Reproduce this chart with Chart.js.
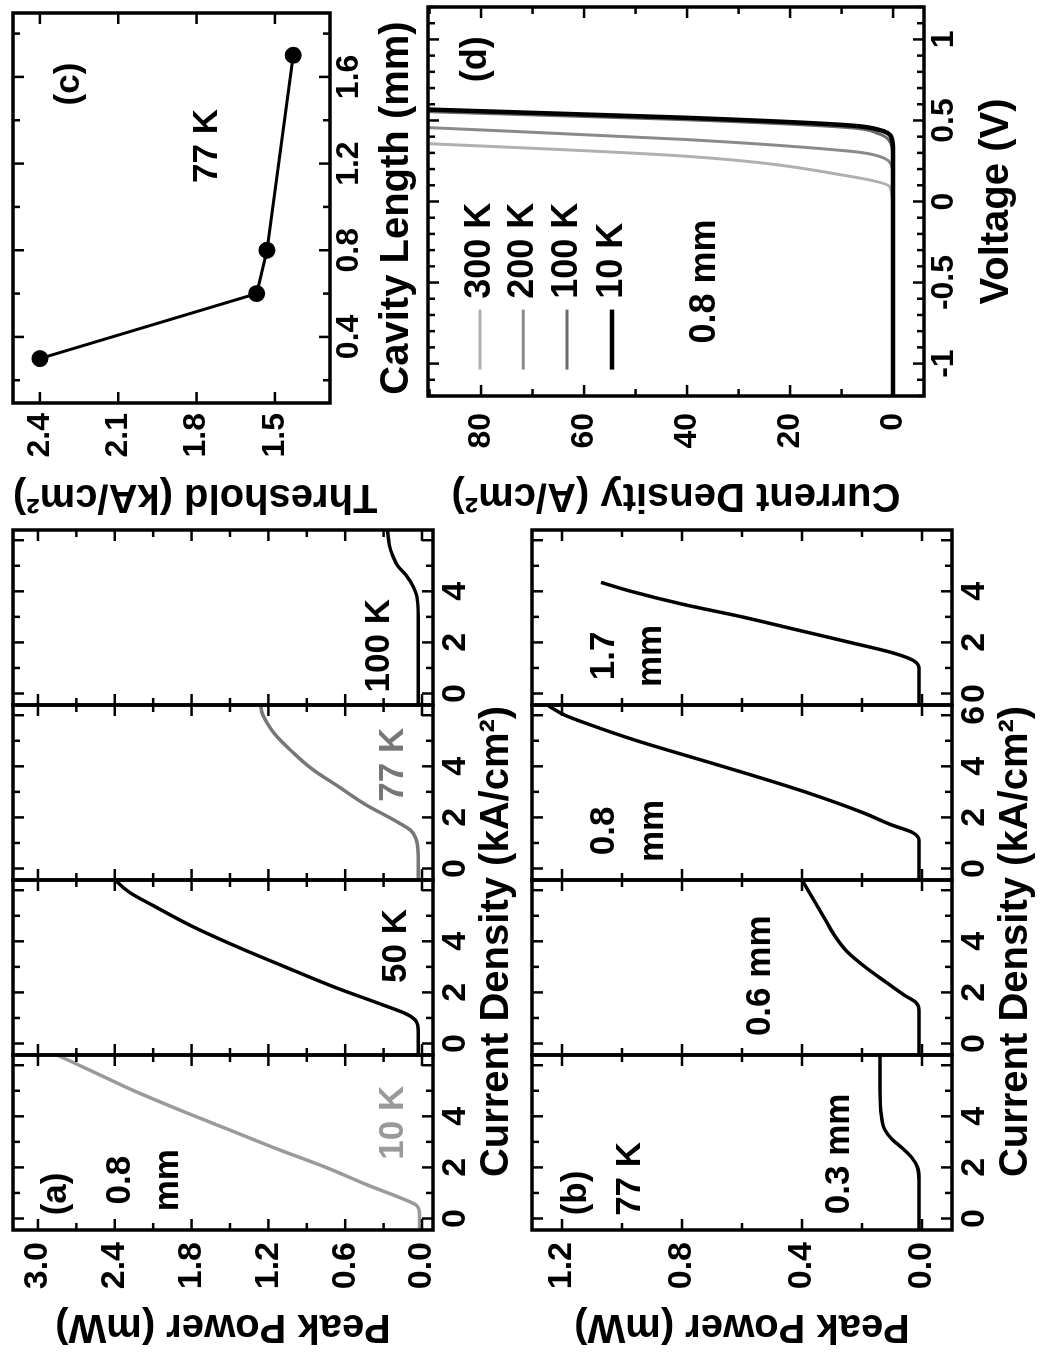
<!DOCTYPE html>
<html><head><meta charset="utf-8">
<script src="https://cdn.jsdelivr.net/npm/chart.js@4.4.1/dist/chart.umd.min.js"></script>
<style>
html,body{margin:0;padding:0;background:#fff;overflow:hidden;width:1040px;height:1353px}
#fig{position:absolute;left:0;top:0;width:1353px;height:1040px;transform-origin:0 0;transform:translateY(1353px) rotate(-90deg);background:#fff}
#fig canvas{position:absolute}
</style></head><body>
<div id="fig">
<canvas id="ca" width="838" height="521" style="left:0;top:0"></canvas>
<canvas id="cb" width="838" height="521" style="left:0;top:519px"></canvas>
<canvas id="cc" width="521" height="421" style="left:832px;top:0"></canvas>
<canvas id="cd" width="521" height="606" style="left:832px;top:415px"></canvas>
</div>
<script>
// ---------- DATA ----------
// Panel (a): 0.8 mm device, Peak power (mW) vs current density (kA/cm^2)
const tempLabelsA = ['10 K', '50 K', '77 K', '100 K'];
const a10J  = [-0.45, 0.2, 0.5, 0.75, 1.3, 2.0, 2.7, 3.4, 4.2, 5.0, 5.7, 6.4];
const a10P  = [0.02, 0.02, 0.04, 0.14, 0.42, 0.75, 1.12, 1.47, 1.87, 2.25, 2.55, 2.85];
const a50J  = [-0.45, 0.5, 0.9, 1.15, 1.5, 2.2, 3.0, 3.8, 4.6, 5.4, 5.9, 6.4];
const a50P  = [0.03, 0.03, 0.05, 0.12, 0.3, 0.68, 1.07, 1.45, 1.8, 2.1, 2.28, 2.4];
const a77J  = [-0.45, 0.5, 1.2, 1.5, 1.9, 2.5, 3.2, 3.9, 4.6, 5.2, 5.7, 6.1, 6.4];
const a77P  = [0.03, 0.03, 0.05, 0.09, 0.22, 0.44, 0.65, 0.86, 1.02, 1.14, 1.21, 1.25, 1.26];
const a100J = [-0.45, 1, 2, 3, 3.8, 4.2, 4.6, 5.0, 5.4, 5.8, 6.4];
const a100P = [0.03, 0.03, 0.03, 0.03, 0.04, 0.07, 0.12, 0.19, 0.23, 0.255, 0.27];

// Panel (b): 77 K, different cavity lengths
const lengthLabelsB = ['0.3 mm', '0.6 mm', '0.8 mm', '1.7 mm'];
const b03J = [-0.45, 1.5, 2.0, 2.4, 2.8, 3.1, 3.5, 4.0, 5.0, 6.4];
const b03P = [0.01, 0.01, 0.015, 0.035, 0.07, 0.1, 0.125, 0.135, 0.14, 0.14];
const b06J = [-0.45, 0.5, 1.3, 1.6, 1.9, 2.4, 3.0, 3.6, 4.2, 4.8, 5.4, 6.0, 6.4];
const b06P = [0.01, 0.01, 0.01, 0.02, 0.06, 0.12, 0.19, 0.25, 0.29, 0.32, 0.35, 0.38, 0.4];
const b08J = [-0.45, 0.5, 1.1, 1.4, 1.7, 2.2, 3.0, 3.7, 4.4, 5.0, 5.6, 6.0, 6.4];
const b08P = [0.01, 0.01, 0.01, 0.03, 0.1, 0.2, 0.39, 0.58, 0.78, 0.95, 1.1, 1.19, 1.25];
const b17J = [-0.45, 0.5, 1.0, 1.3, 1.6, 2.0, 2.5, 3.0, 3.5, 4.0, 4.35];
const b17P = [0.01, 0.01, 0.01, 0.03, 0.1, 0.24, 0.42, 0.6, 0.8, 0.97, 1.07];

// Panel (c): threshold vs cavity length at 77 K
const cavityLen = [0.3, 0.6, 0.8, 1.7];
const threshold = [2.4, 1.57, 1.53, 1.43];

// Panel (d): J-V curves, 0.8 mm
const tempLabelsD = ['10 K', '100 K', '200 K', '300 K'];
const d10V  = [-1.2, 0.3, 0.40, 0.44, 0.469, 0.517, 0.568, 0.58];
const d10J  = [0, 0, 0.4, 2.5, 8.3, 40.6, 91, 100];
const d100V = [-1.2, 0.25, 0.36, 0.42, 0.455, 0.505, 0.555, 0.567];
const d100J = [0, 0, 0.5, 3, 8.3, 40.6, 91, 100];
const d200V = [-1.2, 0.15, 0.24, 0.29, 0.31, 0.383, 0.457, 0.47];
const d200J = [0, 0, 0.6, 4, 8.3, 40.6, 91, 100];
const d300V = [-1.2, -0.05, 0.09, 0.155, 0.28, 0.358, 0.37];
const d300J = [0, 0, 0.6, 8.3, 40.6, 91, 100];

// Tick labels
const jTicks = [0, 2, 4];
const jTicks08 = [0, 2, 4, 6];
const powerTicksA = [0, 0.6, 1.2, 1.8, 2.4, 3.0];
const powerTicksB = [0, 0.4, 0.8, 1.2];
const lenTicks = [0.4, 0.8, 1.2, 1.6];
const thrTicks = [1.5, 1.8, 2.1, 2.4];
const voltTicks = [-1, -0.5, 0, 0.5, 1];
const jdTicks = [0, 20, 40, 60, 80];

// ---------- STYLE / LAYOUT ----------
const FONT = "'Liberation Sans', Arial, sans-serif";
const BLACK = '#000';
const tickFontAB = {family: FONT, size: 34, weight: 'bold'};
const tickFontCD = {family: FONT, size: 32, weight: 'bold'};
const titleFont = {family: FONT, size: 40, weight: 'bold'};
const NOTE_SIZE = 35;
const J_MIN = -0.45, J_MAX = 6.4;

const pts = (xs, ys) => xs.map((x, i) => ({x, y: ys[i]}));
const zeroPad = sc => { sc.paddingLeft = 0; sc.paddingRight = 0; sc.paddingTop = 0; sc.paddingBottom = 0; };
const fixTicks = vals => sc => { sc.ticks = vals.map(v => ({value: v})); };

function frameTicks(o) {
  return {
    id: 'frameTicks',
    afterDatasetsDraw(chart) {
      const {ctx, chartArea: ca} = chart;
      const ys = chart.scales[o.yId];
      const seg = (x1, y1, x2, y2) => { ctx.beginPath(); ctx.moveTo(x1, y1); ctx.lineTo(x2, y2); ctx.stroke(); };
      const steps = (min, max, step) => { const out = []; for (let k = Math.ceil(min / step - 1e-9); k * step <= max + 1e-9; k++) out.push(k * step); return out; };
      const isMaj = (v, m) => Math.abs(v / m - Math.round(v / m)) < 1e-6;
      ctx.save();
      ctx.strokeStyle = BLACK;
      o.xIds.forEach(id => {
        const xs = chart.scales[id];
        const L = xs.left, R = xs.right, T = ca.top, B = ca.bottom;
        ctx.lineWidth = 2.5;
        steps(xs.min, xs.max, o.xMinor).forEach(v => {
          const p = xs.getPixelForValue(v); const len = isMaj(v, o.xMajor) ? 11 : 7;
          seg(p, B, p, B - len); seg(p, T, p, T + len);
        });
        steps(ys.min, ys.max, o.yMinor).forEach(v => {
          const p = ys.getPixelForValue(v); const len = isMaj(v, o.yMajor) ? 11 : 7;
          seg(L, p, L + len, p); seg(R, p, R - len, p);
        });
        ctx.lineWidth = 3.5;
        ctx.strokeRect(L, T, R - L, B - T);
      });
      ctx.restore();
    }
  };
}

function notesPlugin(list, size) {
  return {
    id: 'notes',
    afterDatasetsDraw(chart) {
      const ctx = chart.ctx;
      ctx.save();
      ctx.textAlign = 'center'; ctx.textBaseline = 'middle';
      ctx.font = `bold ${size}px ${FONT}`;
      list.forEach(n => {
        const xs = chart.scales[n.xId || 'x'], ys = chart.scales.y;
        ctx.fillStyle = n.color || BLACK;
        ctx.fillText(n.text, xs.getPixelForValue(n.x), ys.getPixelForValue(n.y));
      });
      ctx.restore();
    }
  };
}

function stackedPanel(canvasId, series, yMin, yMax, yTicks, yMinor, yMajor, notes) {
  const scales = {};
  const datasets = [];
  series.forEach((s, i) => {
    const xid = 'x' + i;
    scales[xid] = {
      type: 'linear', axis: 'x', position: 'bottom', stack: 'J', stackWeight: 1,
      min: J_MIN, max: J_MAX,
      grid: {display: false, drawTicks: false}, border: {display: false},
      afterBuildTicks: fixTicks(s.ticks),
      afterFit: sc => { sc.height = 40; zeroPad(sc); },
      ticks: {font: tickFontAB, color: BLACK, padding: 2, maxRotation: 0, minRotation: 0, autoSkip: false, callback: v => String(v)}
    };
    datasets.push({label: s.label, data: s.data, xAxisID: xid, yAxisID: 'y', showLine: true,
      borderColor: s.color, borderWidth: 3.5, pointRadius: 0, cubicInterpolationMode: 'monotone', fill: false});
  });
  scales.y = {
    type: 'linear', axis: 'y', position: 'left', min: yMin, max: yMax,
    grid: {display: false, drawTicks: false}, border: {display: false},
    afterBuildTicks: fixTicks(yTicks),
    afterFit: sc => { sc.width = 123; zeroPad(sc); },
    ticks: {font: tickFontAB, color: BLACK, padding: 12, callback: v => v.toFixed(1)},
    title: {display: true, text: 'Peak Power (mW)', font: titleFont, color: BLACK, padding: {top: 3, bottom: 0}}
  };
  return new Chart(document.getElementById(canvasId), {
    type: 'scatter',
    data: {datasets},
    options: {
      responsive: false, animation: false, events: [],
      layout: {padding: {top: 13, right: 15, left: 0, bottom: 0}},
      plugins: {
        legend: {display: false}, tooltip: {enabled: false},
        title: {display: true, position: 'bottom', text: 'Current Density (kA/cm²)', font: titleFont, color: BLACK, padding: 0}
      },
      scales
    },
    plugins: [frameTicks({xIds: ['x0', 'x1', 'x2', 'x3'], yId: 'y', xMinor: 1, xMajor: 2, yMinor: yMinor, yMajor: yMajor}), notesPlugin(notes, NOTE_SIZE)]
  });
}

// ---------- PANEL (a) ----------
const GRAY_LIGHT = '#9a9a9a', GRAY_MID = '#777777';
stackedPanel('ca', [
  {label: tempLabelsA[0], data: pts(a10J, a10P), color: GRAY_LIGHT, ticks: jTicks},
  {label: tempLabelsA[1], data: pts(a50J, a50P), color: BLACK, ticks: jTicks},
  {label: tempLabelsA[2], data: pts(a77J, a77P), color: GRAY_MID, ticks: jTicks},
  {label: tempLabelsA[3], data: pts(a100J, a100P), color: BLACK, ticks: jTicks}
], -0.0859, 3.195, powerTicksA, 0.3, 0.6, [
  {text: '(a)', xId: 'x0', x: 0.96, y: 2.86},
  {text: '0.8', xId: 'x0', x: 1.5, y: 2.36},
  {text: 'mm', xId: 'x0', x: 1.5, y: 1.98},
  {text: tempLabelsA[0], xId: 'x0', x: 3.75, y: 0.22, color: GRAY_LIGHT},
  {text: tempLabelsA[1], xId: 'x1', x: 3.82, y: 0.2},
  {text: tempLabelsA[2], xId: 'x2', x: 4.06, y: 0.226, color: GRAY_MID},
  {text: tempLabelsA[3], xId: 'x3', x: 1.87, y: 0.33}
]);

// ---------- PANEL (b) ----------
stackedPanel('cb', [
  {label: lengthLabelsB[0], data: pts(b03J, b03P), color: BLACK, ticks: jTicks},
  {label: lengthLabelsB[1], data: pts(b06J, b06P), color: BLACK, ticks: jTicks},
  {label: lengthLabelsB[2], data: pts(b08J, b08P), color: BLACK, ticks: jTicks08},
  {label: lengthLabelsB[3], data: pts(b17J, b17P), color: BLACK, ticks: jTicks}
], -0.1, 1.3, powerTicksB, 0.2, 0.4, [
  {text: '(b)', xId: 'x0', x: 1.0, y: 1.153},
  {text: '77 K', xId: 'x0', x: 1.55, y: 0.973},
  {text: lengthLabelsB[0], xId: 'x0', x: 2.53, y: 0.277},
  {text: lengthLabelsB[1], xId: 'x1', x: 2.65, y: 0.54},
  {text: '0.8', xId: 'x2', x: 1.47, y: 1.06},
  {text: 'mm', xId: 'x2', x: 1.47, y: 0.897},
  {text: '1.7', xId: 'x3', x: 1.47, y: 1.06},
  {text: 'mm', xId: 'x3', x: 1.47, y: 0.903}
]);

// ---------- PANEL (c) ----------
new Chart(document.getElementById('cc'), {
  type: 'scatter',
  data: {datasets: [{label: '77 K', data: pts(cavityLen, threshold), showLine: true, borderColor: BLACK, borderWidth: 3,
    pointRadius: 7, pointBackgroundColor: BLACK, pointBorderColor: BLACK}]},
  options: {
    responsive: false, animation: false, events: [],
    layout: {padding: {top: 13, right: 13, left: 0, bottom: 0}},
    plugins: {legend: {display: false}, tooltip: {enabled: false}},
    scales: {
      x: {type: 'linear', position: 'bottom', min: 0.095, max: 1.895,
        grid: {display: false, drawTicks: false}, border: {display: false},
        afterBuildTicks: fixTicks(lenTicks),
        afterFit: sc => { sc.height = 91; zeroPad(sc); },
        ticks: {font: tickFontCD, color: BLACK, padding: 0, maxRotation: 0, minRotation: 0, autoSkip: false, callback: v => v.toFixed(1)},
        title: {display: true, text: 'Cavity Length (mm)', font: titleFont, color: BLACK, padding: 0}},
      y: {type: 'linear', position: 'left', min: 1.289, max: 2.503,
        grid: {display: false, drawTicks: false}, border: {display: false},
        afterBuildTicks: fixTicks(thrTicks),
        afterFit: sc => { sc.width = 118; zeroPad(sc); },
        ticks: {font: tickFontCD, color: BLACK, padding: 10, callback: v => v.toFixed(1)},
        title: {display: true, text: 'Threshold (kA/cm²)', align: 'end', font: titleFont, color: BLACK, padding: {top: 1, bottom: 0}}}
    }
  },
  plugins: [frameTicks({xIds: ['x'], yId: 'y', xMinor: 0.2, xMajor: 0.4, yMinor: 0.3, yMajor: 0.3}),
    notesPlugin([{text: '(c)', x: 1.567, y: 2.289}, {text: '77 K', x: 1.281, y: 1.76}], NOTE_SIZE)]
});

// ---------- PANEL (d) ----------
const dColors = [BLACK, '#6a6a6a', '#8a8a8a', '#b0b0b0'];
const dWidths = [4.5, 3, 3, 3];
const dSeries = [pts(d10V, d10J), pts(d100V, d100J), pts(d200V, d200J), pts(d300V, d300J)];
const legendOrderD = ['300 K', '200 K', '100 K', '10 K'];
const legendJ = [80.2, 71.8, 63.3, 54.6];
const LEG_V0 = -1.037, LEG_V1 = -0.667, LEG_VT = -0.6;
const legendPluginD = {
  id: 'legendD',
  afterDatasetsDraw(chart) {
    const {ctx} = chart; const xs = chart.scales.x, ys = chart.scales.y;
    ctx.save();
    ctx.font = `bold 36px ${FONT}`; ctx.textAlign = 'left'; ctx.textBaseline = 'middle';
    legendOrderD.forEach((lab, i) => {
      const ds = chart.data.datasets.find(d => d.label === lab);
      const py = ys.getPixelForValue(legendJ[i]);
      ctx.strokeStyle = ds.borderColor; ctx.lineWidth = ds.borderWidth;
      ctx.beginPath(); ctx.moveTo(xs.getPixelForValue(LEG_V0), py); ctx.lineTo(xs.getPixelForValue(LEG_V1), py); ctx.stroke();
      ctx.fillStyle = BLACK;
      ctx.fillText(lab, xs.getPixelForValue(LEG_VT), py);
    });
    ctx.restore();
  }
};
new Chart(document.getElementById('cd'), {
  type: 'scatter',
  data: {datasets: tempLabelsD.map((lab, i) => ({label: lab, data: dSeries[i], showLine: true, borderColor: dColors[i],
    borderWidth: dWidths[i], pointRadius: 0, cubicInterpolationMode: 'monotone', fill: false}))},
  options: {
    responsive: false, animation: false, events: [],
    layout: {padding: {top: 13, right: 7, left: 0, bottom: 0}},
    plugins: {legend: {display: false}, tooltip: {enabled: false}},
    scales: {
      x: {type: 'linear', position: 'bottom', min: -1.2, max: 1.2,
        grid: {display: false, drawTicks: false}, border: {display: false},
        afterBuildTicks: fixTicks(voltTicks),
        afterFit: sc => { sc.height = 97; zeroPad(sc); },
        ticks: {font: tickFontCD, color: BLACK, padding: 1, maxRotation: 0, minRotation: 0, autoSkip: false, callback: v => String(v)},
        title: {display: true, text: 'Voltage (V)', font: titleFont, color: BLACK, padding: 0}},
      y: {type: 'linear', position: 'left', min: -6, max: 90.3,
        grid: {display: false, drawTicks: false}, border: {display: false},
        afterBuildTicks: fixTicks(jdTicks),
        afterFit: sc => { sc.width = 125; zeroPad(sc); },
        ticks: {font: tickFontCD, color: BLACK, padding: 17, callback: v => String(v)},
        title: {display: true, text: 'Current Density (A/cm²)', font: titleFont, color: BLACK, padding: {top: 2, bottom: 0}}}
    }
  },
  plugins: [frameTicks({xIds: ['x'], yId: 'y', xMinor: 0.1, xMajor: 0.5, yMinor: 10, yMajor: 20}),
    notesPlugin([{text: '(d)', x: 0.877, y: 81}, {text: '0.8 mm', x: -0.494, y: 36.5}], 36), legendPluginD]
});
</script>
</body></html>
